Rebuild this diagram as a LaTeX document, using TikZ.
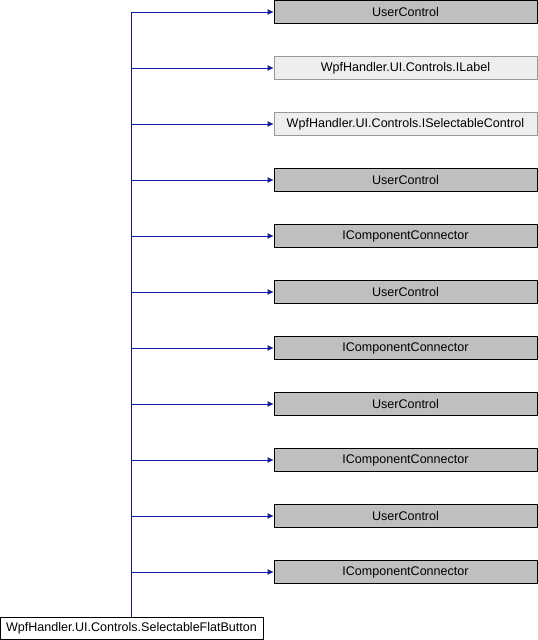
\documentclass[tikz,border=0pt]{standalone}
\usepackage{fontspec}
\setmainfont{Liberation Sans}
\usepackage{xcolor}
\usetikzlibrary{arrows.meta}
\definecolor{edgeblue}{HTML}{10189A}
\definecolor{basegray}{HTML}{BFBFBF}
\definecolor{ifacegray}{HTML}{EEEEEE}
\definecolor{ifaceline}{HTML}{999999}
\tikzstyle{base} = [draw=black, fill=basegray, minimum width=263*0.75pt, minimum height=23*0.75pt, inner sep=0pt, font=\fontsize{9.4}{11}\selectfont]
\tikzstyle{iface} = [base, draw=ifaceline, fill=ifacegray]
\tikzstyle{leaf} = [draw=black, fill=white, minimum width=263*0.75pt, minimum height=22*0.75pt, inner sep=0pt, font=\fontsize{9.4}{11}\selectfont]
\tikzstyle{inherit} = [draw=edgeblue, line width=0.75pt, -{Latex[length=4.5pt,width=4.5pt]}]

\begin{document}
\begin{tikzpicture}[x=0.75pt, y=-0.75pt]
\useasboundingbox (0,0) rectangle (538,640);
\node[leaf] (button) at (131.5,628) {WpfHandler.UI.Controls.SelectableFlatButton};
\foreach \k/\name/\kind in {0/UserControl/base, 1/WpfHandler.UI.Controls.ILabel/iface,
    2/WpfHandler.UI.Controls.ISelectableControl/iface, 3/UserControl/base,
    4/IComponentConnector/base, 5/UserControl/base, 6/IComponentConnector/base,
    7/UserControl/base, 8/IComponentConnector/base, 9/UserControl/base,
    10/IComponentConnector/base}
{
    \node[\kind] (parent\k) at (405.5,12+56*\k) {\name};
    \draw[inherit] (button.north) |- (parent\k.west);
}
\end{tikzpicture}
\end{document}
